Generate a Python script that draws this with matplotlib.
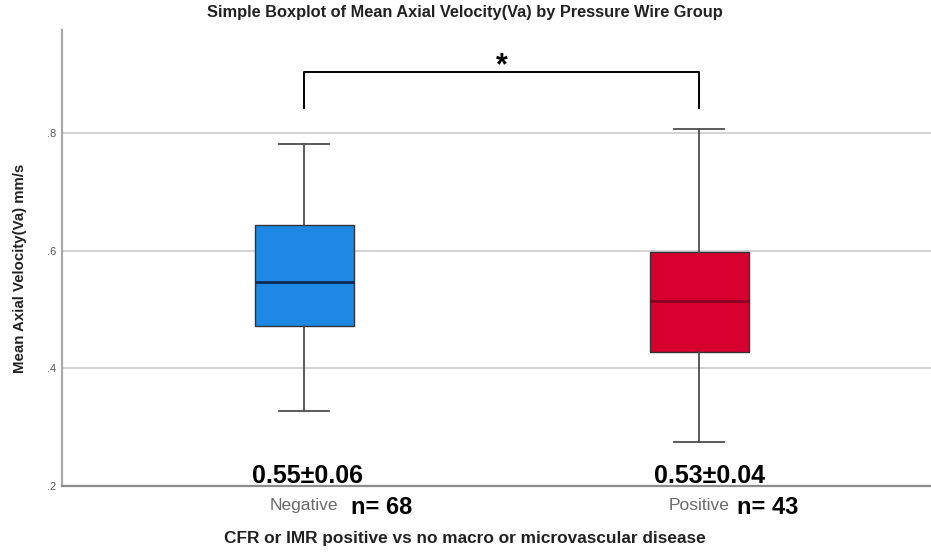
import matplotlib.pyplot as plt
import matplotlib.transforms as mtransforms

plt.rcParams['font.family'] = ['Liberation Sans', 'DejaVu Sans']

# box summary per pressure wire group
groups = ["Negative", "Positive"]
whisker_low = [0.327, 0.275]
q1 = [0.472, 0.428]
median = [0.547, 0.514]
q3 = [0.644, 0.598]
whisker_high = [0.782, 0.807]
counts = [68, 43]
mean_sd = ["0.55\u00b10.06", "0.53\u00b10.04"]
y_ticks = [0.2, 0.4, 0.6, 0.8]
y_tick_labels = [".2", ".4", ".6", ".8"]

box_colors = ["#1e88e5", "#d6002f"]
median_colors = ["#0b2a55", "#8a0020"]

fig = plt.figure(figsize=(9.31, 5.53), dpi=100)
ax = fig.add_axes([0.0666, 0.122, 0.9334, 0.8238])

stats = []
for i, g in enumerate(groups):
    stats.append({"label": g, "whislo": whisker_low[i], "q1": q1[i], "med": median[i],
                  "q3": q3[i], "whishi": whisker_high[i], "fliers": []})

parts = ax.bxp(stats, positions=[0, 1], widths=0.25, capwidths=0.125, patch_artist=True,
               showfliers=False,
               boxprops=dict(linewidth=1.0, edgecolor="#333333"),
               whiskerprops=dict(color="#4d4d4d", linewidth=1.3),
               capprops=dict(color="#4d4d4d", linewidth=1.3),
               medianprops=dict(linewidth=2.0))
for box, fc in zip(parts["boxes"], box_colors):
    box.set_facecolor(fc)
    box.set_zorder(3)
for med_line, mc in zip(parts["medians"], median_colors):
    med_line.set_color(mc)
    med_line.set_zorder(4)
for ln in parts["whiskers"] + parts["caps"]:
    ln.set_zorder(3)

ax.set_xlim(-0.613, 1.587)
ax.set_ylim(0.2, 0.976)
ax.set_yticks(y_ticks)
ax.set_yticklabels(y_tick_labels)
ax.yaxis.grid(True, color="#d4d4d4", linewidth=1.5, zorder=0)
ax.set_axisbelow(True)
ax.tick_params(axis="y", length=0, pad=4, labelsize=8, labelcolor="#555555")
ax.set_xticks([0, 1])
ax.set_xticklabels(["", ""])
ax.tick_params(axis="x", length=0)

for side in ["top", "right"]:
    ax.spines[side].set_visible(False)
ax.spines["left"].set_color("#a8a8a8")
ax.spines["left"].set_linewidth(1.6)
ax.spines["bottom"].set_color("#8c8c8c")
ax.spines["bottom"].set_linewidth(1.6)

# group names with sample sizes under the axis
trans = mtransforms.blended_transform_factory(ax.transData, ax.transAxes)
n_offset = [0.119, 0.096]
for i, g in enumerate(groups):
    ax.text(i, -0.054, g, transform=trans, ha="center", va="baseline",
            fontsize=12.5, color="#6a6a6a")
    ax.text(i + n_offset[i], -0.063, f"n= {counts[i]}", transform=trans, ha="left",
            va="baseline", fontsize=17, fontweight="bold", color="black")

# mean ± sd just above the axis
mean_x = [0.008, 1.025]
for i in range(len(groups)):
    ax.text(mean_x[i], 0.204, mean_sd[i], ha="center", va="baseline",
            fontsize=18, fontweight="bold", color="black")

# significance bracket
bracket_low = 0.843
bracket_top = 0.904
ax.plot([0, 0, 1, 1], [bracket_low, bracket_top, bracket_top, bracket_low],
        color="black", linewidth=1.4, zorder=5)
ax.text(0.5, 0.915, "*", ha="center", va="center", fontsize=22, fontweight="bold")

fig.text(0.4995, 1 - 13 / 553, "Simple Boxplot of Mean Axial Velocity(Va) by Pressure Wire Group",
         ha="center", va="center", fontsize=11.8, fontweight="bold", color="#222222")
fig.text(20 / 931, 1 - 268 / 553, "Mean Axial Velocity(Va) mm/s", rotation=90,
         ha="center", va="center", fontsize=10.8, fontweight="bold", color="#222222")
fig.text(465 / 931, 15 / 553, "CFR or IMR positive vs no macro or microvascular disease",
         ha="center", va="center", fontsize=12.4, fontweight="bold", color="#222222")

fig.savefig("out.png", dpi=100)
